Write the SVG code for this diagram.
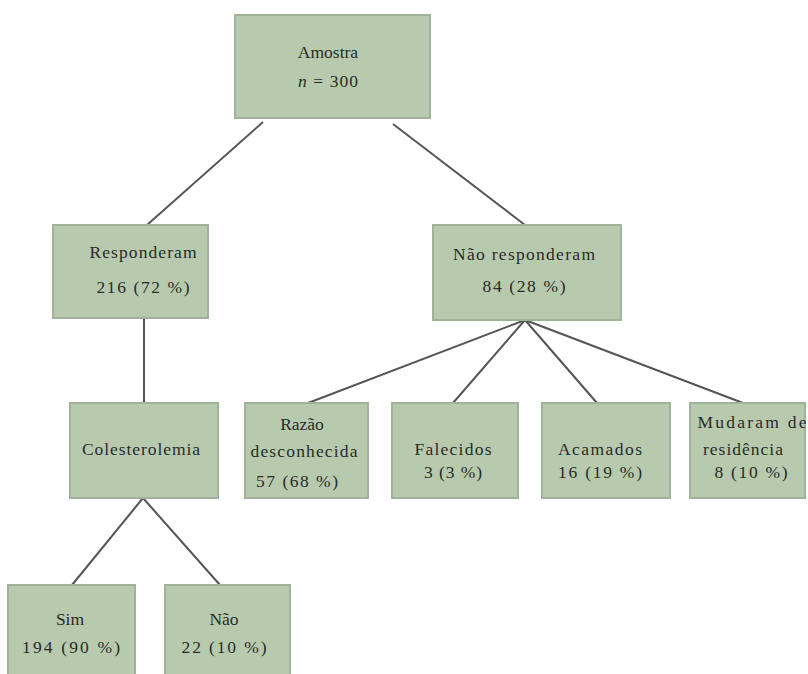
<svg xmlns="http://www.w3.org/2000/svg" width="808" height="674" viewBox="0 0 808 674">
<style>
.box{fill:#b8caad;stroke:#a0b297;stroke-width:2}
.t{font-family:"Liberation Serif","Times New Roman",serif;font-size:17.5px;fill:#2a2a2a;text-anchor:middle}
.c{stroke:#555;stroke-width:2;fill:none}
</style>
<rect width="808" height="674" fill="#fff"/>
<g id="connectors">
<line class="c" x1="263" y1="122" x2="147" y2="225"/>
<line class="c" x1="393" y1="124" x2="525" y2="225"/>
<line class="c" x1="144" y1="318" x2="144" y2="403"/>
<line class="c" x1="525" y1="320" x2="308" y2="403"/>
<line class="c" x1="525" y1="320" x2="453" y2="403"/>
<line class="c" x1="525" y1="320" x2="597" y2="403"/>
<line class="c" x1="525" y1="320" x2="743" y2="403"/>
<line class="c" x1="143" y1="498" x2="72" y2="585"/>
<line class="c" x1="143" y1="498" x2="220" y2="585"/>
</g>
<g id="amostra">
<rect class="box" x="235" y="15" width="195" height="103"/>
<text class="t" x="328" y="58">Amostra</text>
<text class="t" x="328" y="87" textLength="60"><tspan font-style="italic">n</tspan> = 300</text>
</g>
<g id="responderam">
<rect class="box" x="53" y="225" width="155" height="93"/>
<text class="t" x="143" y="258" textLength="107">Responderam</text>
<text class="t" x="143" y="293" textLength="93">216  (72 %)</text>
</g>
<g id="nao-responderam">
<rect class="box" x="433" y="225" width="188" height="95"/>
<text class="t" x="524" y="260" textLength="142">Não  responderam</text>
<text class="t" x="524" y="292" textLength="83">84  (28 %)</text>
</g>
<g id="colesterolemia">
<rect class="box" x="70" y="403" width="148" height="95"/>
<text class="t" x="141" y="455" textLength="118" fill="#444">Colesterolemia</text>
</g>
<g id="razao">
<rect class="box" x="245" y="403" width="123" height="95"/>
<text class="t" x="302" y="430">Razão</text>
<text class="t" x="304" y="457" textLength="107">desconhecida</text>
<text class="t" x="297" y="487" textLength="82">57  (68 %)</text>
</g>
<g id="falecidos">
<rect class="box" x="392" y="403" width="126" height="95"/>
<text class="t" x="453" y="455" textLength="77">Falecidos</text>
<text class="t" x="453" y="478" textLength="58">3  (3 %)</text>
</g>
<g id="acamados">
<rect class="box" x="542" y="403" width="128" height="95"/>
<text class="t" x="600" y="455" textLength="84">Acamados</text>
<text class="t" x="600" y="478" textLength="84">16  (19 %)</text>
</g>
<g id="mudaram">
<rect class="box" x="690" y="403" width="115" height="95"/>
<text class="t" x="752" y="428" textLength="109">Mudaram  de</text>
<text class="t" x="743" y="455" textLength="80">residência</text>
<text class="t" x="751" y="478" textLength="73">8  (10 %)</text>
</g>
<g id="sim">
<rect class="box" x="8" y="585" width="127" height="95"/>
<text class="t" x="70" y="625">Sim</text>
<text class="t" x="71" y="653" textLength="98">194  (90 %)</text>
</g>
<g id="nao">
<rect class="box" x="165" y="585" width="125" height="95"/>
<text class="t" x="224" y="625" fill="#555">Não</text>
<text class="t" x="224" y="653" textLength="85">22  (10 %)</text>
</g>
</svg>
